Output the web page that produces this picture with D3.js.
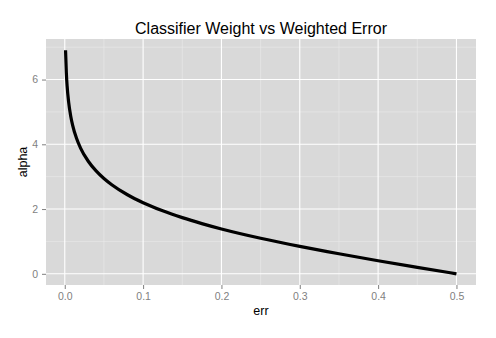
<!DOCTYPE html>
<html>
<head>
<meta charset="utf-8">
<script src="https://cdn.jsdelivr.net/npm/d3@7"></script>
<style>
  html, body { margin: 0; padding: 0; background: #fff; }
  svg { display: block; font-family: "Liberation Sans", Arial, Helvetica, sans-serif; }
</style>
</head>
<body>
<svg id="chart" width="496" height="338"></svg>
<script>
// Classifier weight (alpha) as a function of weighted error
const err = [0.001, 0.002, 0.003, 0.005, 0.0075, 0.01, 0.015, 0.02, 0.03, 0.04, 0.05, 0.06,
             0.08, 0.1, 0.125, 0.15, 0.175, 0.2, 0.25, 0.3, 0.35, 0.4, 0.45, 0.5];
const alpha = [6.907, 6.213, 5.806, 5.293, 4.885, 4.595, 4.185, 3.892, 3.476, 3.178, 2.944, 2.752,
               2.442, 2.197, 1.946, 1.735, 1.551, 1.386, 1.099, 0.847, 0.619, 0.405, 0.201, 0.0];
const xTicks = [0.0, 0.1, 0.2, 0.3, 0.4, 0.5];
const xMinor = [0.05, 0.15, 0.25, 0.35, 0.45];
const yTicks = [0, 2, 4, 6];
const yMinor = [1, 3, 5, 7];

const svg = d3.select("#chart");
const panel = { left: 46, right: 476, top: 39, bottom: 285 };

// ggplot-style 5% expansion of the data range
const xExt = d3.extent(err), yExt = d3.extent(alpha);
const xPad = (xExt[1] - xExt[0]) * 0.05, yPad = (yExt[1] - yExt[0]) * 0.05;
const x = d3.scaleLinear().domain([xExt[0] - xPad, xExt[1] + xPad]).range([panel.left, panel.right]);
const y = d3.scaleLinear().domain([yExt[0] - yPad, yExt[1] + yPad]).range([panel.bottom, panel.top]);

// panel background
svg.append("rect")
  .attr("x", panel.left).attr("y", panel.top)
  .attr("width", panel.right - panel.left).attr("height", panel.bottom - panel.top)
  .attr("fill", "#d9d9d9");

const grid = svg.append("g");
// minor grid
grid.selectAll(".vminor").data(xMinor).join("line")
  .attr("x1", d => x(d)).attr("x2", d => x(d)).attr("y1", panel.top).attr("y2", panel.bottom)
  .attr("stroke", "#ebebeb").attr("stroke-width", 0.6);
grid.selectAll(".hminor").data(yMinor).join("line")
  .attr("y1", d => y(d)).attr("y2", d => y(d)).attr("x1", panel.left).attr("x2", panel.right)
  .attr("stroke", "#ebebeb").attr("stroke-width", 0.6);
// major grid
grid.selectAll(".vmajor").data(xTicks).join("line")
  .attr("x1", d => x(d)).attr("x2", d => x(d)).attr("y1", panel.top).attr("y2", panel.bottom)
  .attr("stroke", "#ffffff").attr("stroke-width", 1.1);
grid.selectAll(".hmajor").data(yTicks).join("line")
  .attr("y1", d => y(d)).attr("y2", d => y(d)).attr("x1", panel.left).attr("x2", panel.right)
  .attr("stroke", "#ffffff").attr("stroke-width", 1.1);

// curve
const line = d3.line().x((d, i) => x(err[i])).y(d => y(d)).curve(d3.curveMonotoneX);
svg.append("path")
  .datum(alpha)
  .attr("d", line)
  .attr("fill", "none")
  .attr("stroke", "#000")
  .attr("stroke-width", 3.2)
  .attr("stroke-linejoin", "round");

// axes
const xAxis = d3.axisBottom(x).tickValues(xTicks).tickFormat(d3.format(".1f")).tickSizeOuter(0).tickSize(4).tickPadding(4);
const yAxis = d3.axisLeft(y).tickValues(yTicks).tickFormat(d3.format("d")).tickSizeOuter(0).tickSize(4).tickPadding(4);

const gx = svg.append("g").attr("transform", `translate(0,${panel.bottom})`).call(xAxis);
const gy = svg.append("g").attr("transform", `translate(${panel.left},0)`).call(yAxis);
[gx, gy].forEach(g => {
  g.select(".domain").remove();
  g.selectAll(".tick line").attr("stroke", "#7f7f7f");
  g.selectAll(".tick text").attr("fill", "#7f7f7f").attr("font-size", 10.5)
    .attr("font-family", "Liberation Sans, Arial, sans-serif");
});

// titles
const cx = (panel.left + panel.right) / 2;
svg.append("text").attr("x", cx).attr("y", 34).attr("text-anchor", "middle")
  .attr("font-size", 16).attr("fill", "#000").text("Classifier Weight vs Weighted Error");
svg.append("text").attr("x", cx).attr("y", 315).attr("text-anchor", "middle")
  .attr("font-size", 12.5).attr("fill", "#000").text("err");
svg.append("text")
  .attr("transform", `translate(27,${(panel.top + panel.bottom) / 2}) rotate(-90)`)
  .attr("text-anchor", "middle").attr("font-size", 12.5).attr("fill", "#000").text("alpha");
</script>
</body>
</html>
